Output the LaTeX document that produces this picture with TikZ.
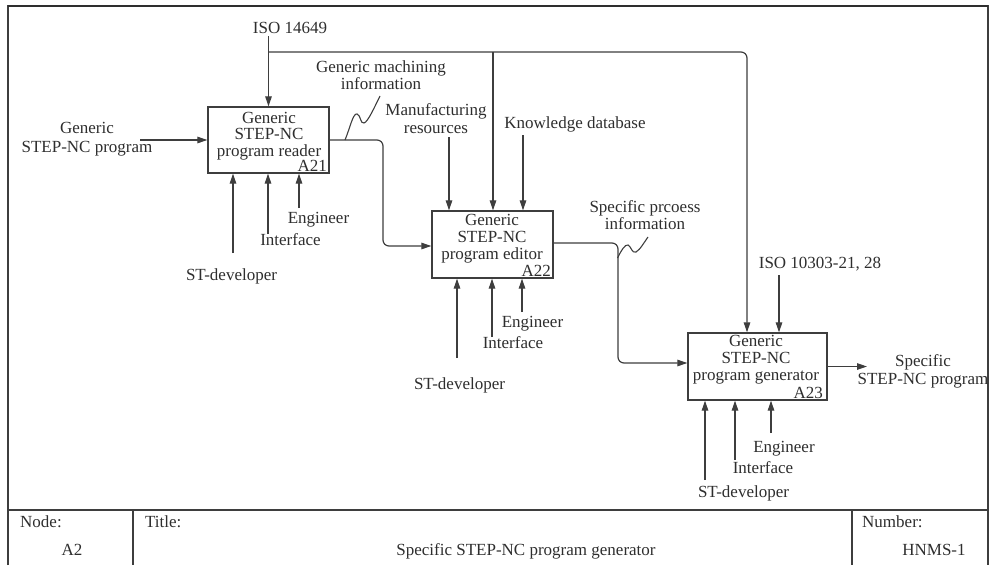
\documentclass[tikz,border=0pt]{standalone}
\usepackage{fontspec}
\setmainfont{Liberation Serif}
\usetikzlibrary{arrows.meta}
\definecolor{ink}{HTML}{2E2E2E}
\definecolor{lin}{HTML}{3E3E3E}
\newcommand{\mlx}[2]{{\fontsize{17}{#1}\selectfont\begin{tabular}[t]{@{}c@{}}#2\end{tabular}}}
\begin{document}
\begin{tikzpicture}[x=1pt,y=-1pt,
  every node/.style={text=ink},
  pbox/.style={draw=lin, line width=1.3pt, inner sep=0pt, fill=white},
  lbl/.style={anchor=base, inner sep=0pt, font=\fontsize{17}{18}\selectfont},
  conn/.style={draw=lin, line width=1.2pt, -{Triangle[length=10pt,width=6.5pt]}},
  wire/.style={draw=lin, line width=1.1pt},
  rc/.style={rounded corners=6pt}]
\useasboundingbox (0,0) rectangle (990,565);
% frame
\draw[lin, line width=1.3pt] (8,565) -- (8,6) -- (988,6) -- (988,565);
\draw[ink, line width=2pt] (8,6) -- (988,6);
\draw[lin, line width=1.2pt] (8,510) -- (988,510);
\draw[lin, line width=1.2pt] (133,510) -- (133,565);
\draw[lin, line width=1.2pt] (852,510) -- (852,565);
% boxes
\node[pbox, minimum width=121pt, minimum height=66pt] (a21) at (268.5,140) {};
\node[pbox, minimum width=121pt, minimum height=67pt] (a22) at (492.5,244.5) {};
\node[pbox, minimum width=139pt, minimum height=67pt] (a23) at (757.5,366.5) {};
\node[lbl] (t21) at (269,123) {\mlx{16.5}{Generic\\STEP-NC\\program reader}};
\node[lbl, anchor=base east] (n21) at (327,171.5) {A21};
\node[lbl] (t22) at (492,225) {\mlx{17}{Generic\\STEP-NC\\program editor}};
\node[lbl, anchor=base east] (n22) at (551,276) {A22};
\node[lbl] (t23) at (756,346) {\mlx{17}{Generic\\STEP-NC\\program generator}};
\node[lbl, anchor=base east] (n23) at (823,398.5) {A23};
% labels
\node[lbl] (iso1) at (290,33) {ISO 14649};
\node[lbl] (inl) at (87,133) {\mlx{19}{Generic\\STEP-NC program}};
\node[lbl] (gmi) at (381,72) {\mlx{17}{Generic machining\\information}};
\node[lbl] (mfr) at (436,115) {\mlx{18}{Manufacturing\\resources}};
\node[lbl] (kdb) at (575,128) {Knowledge database};
\node[lbl] (spi) at (645,212) {\mlx{17}{Specific prcoess\\information}};
\node[lbl] (iso2) at (820,268) {ISO 10303-21, 28};
\node[lbl] (outl) at (923,366) {\mlx{18}{Specific\\STEP-NC program}};
\node[lbl] (e21) at (318.5,223) {Engineer};
\node[lbl] (i21) at (290.5,245) {Interface};
\node[lbl] (s21) at (231.5,280) {ST-developer};
\node[lbl] (e22) at (532.5,327) {Engineer};
\node[lbl] (i22) at (513,348) {Interface};
\node[lbl] (s22) at (459.5,389) {ST-developer};
\node[lbl] (e23) at (784,452) {Engineer};
\node[lbl] (i23) at (763,473) {Interface};
\node[lbl] (s23) at (743.5,497) {ST-developer};
% table text
\node[lbl, anchor=base west] (tn) at (20,527) {Node:};
\node[lbl, anchor=base west] (tt) at (145,527) {Title:};
\node[lbl, anchor=base west] (tnum) at (862,527) {Number:};
\node[lbl] (ta2) at (72,555) {A2};
\node[lbl] (ttitle) at (526,555) {Specific STEP-NC program generator};
\node[lbl] (thn) at (934,555) {HNMS-1};
% coordinates for free ends
\coordinate (cIso1) at (268.5,36);
\coordinate (cJ) at (268.5,52);
\coordinate (cIn) at (140,140);
\coordinate (cMfr) at (449,137);
\coordinate (cKdb) at (523,135);
\coordinate (cIso2) at (779,275);
\coordinate (cOut) at (867,366.5);
\coordinate (cS21) at (233,253);
\coordinate (cI21) at (268,234);
\coordinate (cE21) at (299,208);
\coordinate (cS22) at (457,358);
\coordinate (cI22) at (492,337);
\coordinate (cE22) at (522,312);
\coordinate (cS23) at (705,480);
\coordinate (cI23) at (735,460);
\coordinate (cE23) at (771,433);
% connectors
\draw[conn] (cIso1) -- (a21.north);
\draw[conn, rc] (cJ) -- (747,52) -- (a23.north -| 747,0);
\draw[conn] (493,52) -- (a22.north -| 493,0);
\draw[conn] (cIn) -- (a21.west);
\draw[conn, rc] (a21.east) -- (383,140) -- (383,246) -- ([yshift=-1.5pt]a22.west);
\draw[conn, rc] ([yshift=1.5pt]a22.east) -- (618,243) -- (618,363) -- ([yshift=3.5pt]a23.west);
\draw[conn] (a23.east) -- (cOut);
\draw[conn] (cMfr) -- (a22.north -| cMfr);
\draw[conn] (cKdb) -- (a22.north -| cKdb);
\draw[conn] (cIso2) -- (a23.north -| cIso2);
\draw[conn] (cS21) -- (a21.south -| cS21);
\draw[conn] (cI21) -- (a21.south -| cI21);
\draw[conn] (cE21) -- (a21.south -| cE21);
\draw[conn] (cS22) -- (a22.south -| cS22);
\draw[conn] (cI22) -- (a22.south -| cI22);
\draw[conn] (cE22) -- (a22.south -| cE22);
\draw[conn] (cS23) -- (a23.south -| cS23);
\draw[conn] (cI23) -- (a23.south -| cI23);
\draw[conn] (cE23) -- (a23.south -| cE23);
% squiggles
\draw[wire] (345,140) .. controls (350,128) and (353,113) .. (357,114) .. controls (361,115) and (360,124) .. (364,123) .. controls (368,122) and (375,106) .. (380,96);
\draw[wire] (617.5,258) .. controls (621,251) and (625,244) .. (628,245) .. controls (631,246) and (632,254) .. (636,252) .. controls (640,250) and (645,241) .. (648,237);
\end{tikzpicture}
\end{document}
